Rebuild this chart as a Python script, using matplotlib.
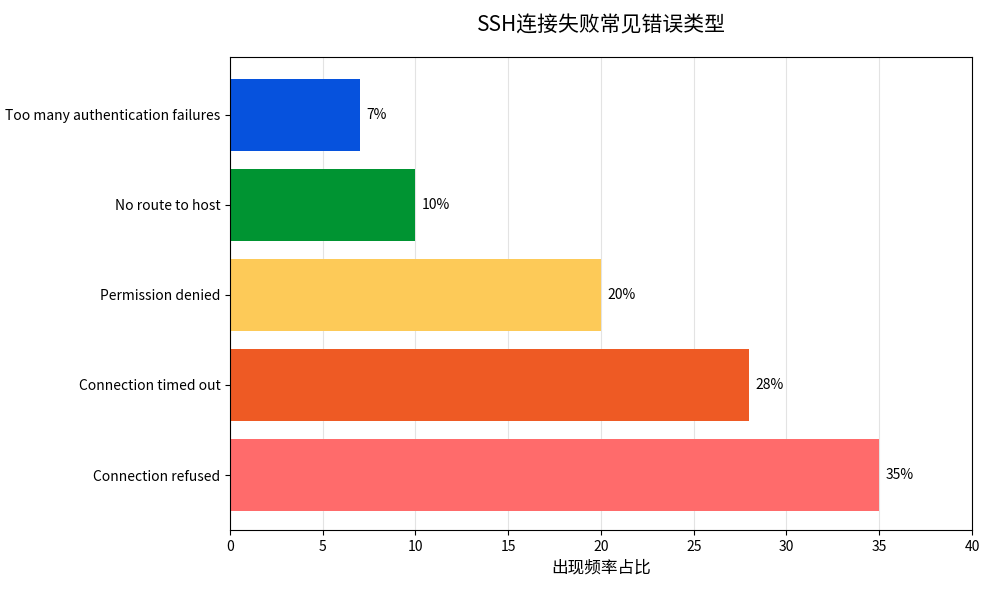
import matplotlib
matplotlib.use("Agg")
import matplotlib.pyplot as plt

plt.rcParams['font.family'] = ['Noto Sans CJK SC', 'DejaVu Sans']

categories = ["Connection refused", "Connection timed out", "Permission denied",
              "No route to host", "Too many authentication failures"]
values = [35, 28, 20, 10, 7]
colors = ["#FF6B6B", "#EE5A24", "#FDCA58", "#009432", "#0652DD"]

fig, ax = plt.subplots(figsize=(9.9, 5.9), dpi=100)
fig.subplots_adjust(left=0.2323, right=0.9818, top=0.9034, bottom=0.1017)
ax.barh(categories, values, color=colors, height=0.8, zorder=2)
for i, v in enumerate(values):
    ax.text(v + 0.35, i, f"{v}%", va="center", ha="left", fontsize=10)
ax.set_xlim(0, 40)
ax.set_ylim(-0.61, 4.64)
ax.set_xticks(range(0, 41, 5))
ax.grid(axis="x", color="#dddddd", linewidth=0.8, alpha=0.8, zorder=0)
ax.set_axisbelow(True)
ax.tick_params(labelsize=10)
ax.set_xlabel("出现频率占比", fontsize=12)
ax.set_title("SSH连接失败常见错误类型", fontsize=15, pad=18)
fig.savefig("out.png")
